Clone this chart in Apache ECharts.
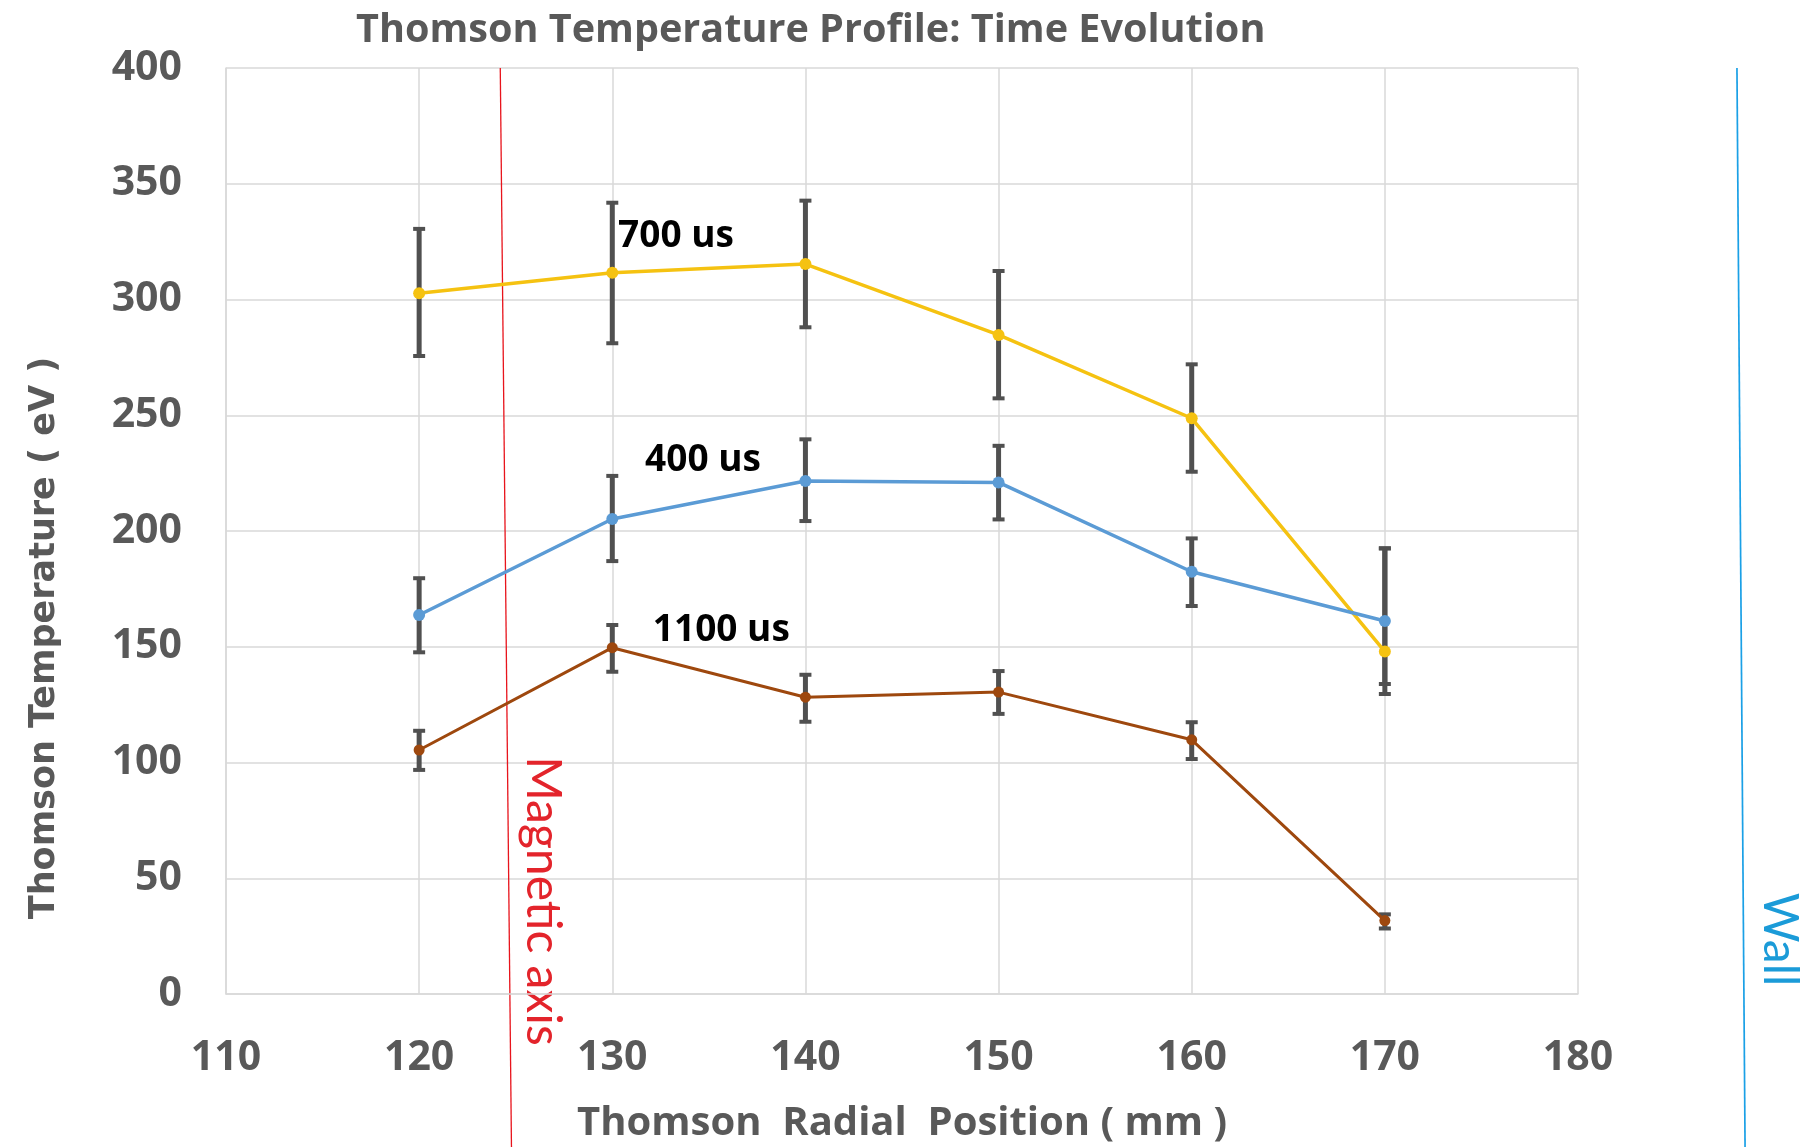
<!DOCTYPE html>
<html>
<head>
<meta charset="utf-8">
<title>Thomson Temperature Profile</title>
<script src="https://cdn.jsdelivr.net/npm/echarts@6.0.0/dist/echarts.min.js"></script>
<style>
  html, body { margin: 0; padding: 0; background: #fff; }
  #main { width: 1806px; height: 1147px; }
</style>
</head>
<body>
<div id="main"></div>
<script>
// radial positions (mm)
const radial = [120, 130, 140, 150, 160, 170]

// electron temperature (eV) with error bar ends
const te400 = [163.7, 205.2, 221.6, 221.0, 182.4, 161.1]
const te400Lo = [147.6, 187.0, 204.3, 205.0, 167.6, 133.9]
const te400Hi = [179.6, 223.8, 239.6, 236.8, 196.8, 192.5]

const te700 = [302.7, 311.6, 315.3, 284.7, 248.7, 147.9]
const te700Lo = [275.6, 281.1, 288.0, 257.3, 225.6, 129.6]
const te700Hi = [330.5, 341.8, 342.7, 312.3, 272.0, 192.5]

const te1100 = [105.4, 149.6, 128.2, 130.4, 109.8, 31.7]
const te1100Lo = [96.8, 139.2, 117.6, 121.0, 101.5, 28.3]
const te1100Hi = [113.7, 159.4, 137.9, 139.5, 117.4, 34.4]

// where the time labels sit (mm, eV)
const label400 = [131.7, 230.3]
const label700 = [130.3, 327.2]
const label1100 = [132.1, 157.0]

// hand drawn markers: x in mm at top of plot / bottom of picture
const magneticAxisX = [124.2, 124.78]
const wallX = [188.23, 188.65]
const magneticAxisText = [126.4, 40.2]
const wallText = [190.43, 23.5]

const gray = '#595959'
const tickFont = { fontFamily: 'Open Sans', fontWeight: 'bold', fontSize: 41, color: gray }

const chart = echarts.init(document.getElementById('main'))

function lineSeries(name, color, values, width, symbolSize, labelPos) {
  return {
    name: name,
    type: 'line',
    z: 3,
    data: radial.map((r, i) => [r, values[i]]),
    symbol: 'circle',
    symbolSize: symbolSize,
    lineStyle: { color: color, width: width },
    itemStyle: { color: color },
    markPoint: {
      silent: true,
      symbol: 'circle',
      symbolSize: 0,
      data: [{ name: name, coord: labelPos }],
      label: {
        show: true,
        position: 'right',
        distance: 0,
        formatter: '{b}',
        color: '#000',
        fontFamily: 'Open Sans',
        fontWeight: 'bold',
        fontSize: 37
      }
    }
  }
}

function errorSeries(name, lo, hi) {
  return {
    name: name + ' err',
    type: 'custom',
    z: 1,
    silent: true,
    data: radial.map((r, i) => [r, lo[i], hi[i]]),
    encode: { x: 0, y: [1, 2] },
    renderItem: function(params, api) {
      const top = api.coord([api.value(0), api.value(2)])
      const bot = api.coord([api.value(0), api.value(1)])
      const half = 6
      const style = { stroke: '#505050', lineWidth: 5 }
      const capStyle = { stroke: '#505050', lineWidth: 4 }
      return {
        type: 'group',
        children: [
          { type: 'line', shape: { x1: top[0], y1: top[1], x2: bot[0], y2: bot[1] }, style: style },
          { type: 'line', shape: { x1: top[0] - half, y1: top[1], x2: top[0] + half, y2: top[1] }, style: capStyle },
          { type: 'line', shape: { x1: bot[0] - half, y1: bot[1], x2: bot[0] + half, y2: bot[1] }, style: capStyle }
        ]
      }
    }
  }
}

chart.setOption({
  animation: false,
  title: {
    text: 'Thomson Temperature Profile: Time Evolution',
    left: 351,
    top: 6,
    textStyle: { fontFamily: 'Open Sans', fontWeight: 'bold', fontSize: 39.6, color: gray }
  },
  grid: { left: 226, right: 228, top: 68, bottom: 153, outerBoundsMode: 'none' },
  xAxis: {
    type: 'value',
    min: 110,
    max: 180,
    interval: 10,
    name: 'Thomson  Radial  Position ( mm )',
    nameLocation: 'middle',
    nameGap: 110,
    nameTextStyle: { fontFamily: 'Open Sans', fontWeight: 'bold', fontSize: 40, color: gray },
    axisLine: { show: true, lineStyle: { color: '#D9D9D9', width: 1.5 } },
    axisTick: { show: false },
    axisLabel: Object.assign({ margin: 44 }, tickFont),
    splitLine: { show: true, lineStyle: { color: '#D9D9D9', width: 1.5 } }
  },
  yAxis: {
    type: 'value',
    min: 0,
    max: 400,
    interval: 50,
    name: 'Thomson Temperature ( eV )',
    nameLocation: 'middle',
    nameRotate: 90,
    nameGap: 164,
    nameTextStyle: {
      fontFamily: 'DejaVu Sans',
      fontWeight: 'bold',
      fontSize: 35,
      color: gray,
      padding: [0, 214, 0, 0]
    },
    axisLine: { show: true, lineStyle: { color: '#D9D9D9', width: 1.5 } },
    axisTick: { show: false },
    axisLabel: Object.assign({ margin: 44 }, tickFont),
    splitLine: { show: true, lineStyle: { color: '#D9D9D9', width: 1.5 } }
  },
  series: [
    errorSeries('700 us', te700Lo, te700Hi),
    errorSeries('400 us', te400Lo, te400Hi),
    errorSeries('1100 us', te1100Lo, te1100Hi),
    lineSeries('700 us', '#F5C211', te700, 3.5, 12, label700),
    lineSeries('400 us', '#5B9BD5', te400, 3.5, 12, label400),
    lineSeries('1100 us', '#9E480E', te1100, 3, 11, label1100)
  ]
})

// annotation lines and texts, placed through the axes
const px = v => chart.convertToPixel({ xAxisIndex: 0 }, v)
const py = v => chart.convertToPixel({ yAxisIndex: 0 }, v)
const plotTop = py(400)
const pictureBottom = chart.getHeight()

chart.setOption({
  graphic: [
    {
      type: 'line',
      silent: true,
      shape: { x1: px(magneticAxisX[0]), y1: plotTop, x2: px(magneticAxisX[1]), y2: pictureBottom },
      style: { stroke: '#E8141C', lineWidth: 1.3 }
    },
    {
      type: 'line',
      silent: true,
      shape: { x1: px(wallX[0]), y1: plotTop, x2: px(wallX[1]), y2: pictureBottom },
      style: { stroke: '#1AA0E6', lineWidth: 1.7 }
    },
    {
      type: 'text',
      silent: true,
      x: px(magneticAxisText[0]),
      y: py(magneticAxisText[1]),
      rotation: -Math.PI / 2,
      style: {
        text: 'Magnetic axis',
        fill: '#E3242B',
        fontFamily: 'Lato',
        fontSize: 48,
        align: 'center',
        verticalAlign: 'middle'
      }
    },
    {
      type: 'text',
      silent: true,
      x: px(wallText[0]),
      y: py(wallText[1]),
      rotation: -Math.PI / 2,
      style: {
        text: 'Wall',
        fill: '#1B9BD8',
        fontFamily: 'Lato',
        fontSize: 48,
        align: 'center',
        verticalAlign: 'middle'
      }
    }
  ]
})
</script>
</body>
</html>
